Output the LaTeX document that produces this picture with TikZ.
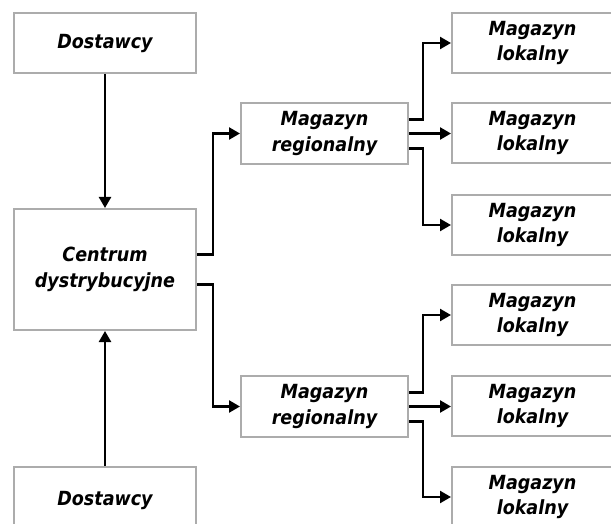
\documentclass[tikz,border=0pt]{standalone}
\usepackage{fontspec}
\setmainfont{DejaVu Sans Condensed}
\usetikzlibrary{arrows.meta}
\definecolor{boxgray}{RGB}{172,172,172}
\begin{document}
\begin{tikzpicture}[x=1pt,y=1pt,
  box/.style={draw=boxgray, line width=2pt, fill=white, inner sep=0pt, align=center,
    font=\fontsize{19.5}{25.5}\selectfont\bfseries\itshape},
  wide/.style={box, minimum width=182pt, minimum height=60pt},
  reg/.style={box, minimum width=167pt, minimum height=61pt},
  loc/.style={box, minimum width=161pt, minimum height=60pt},
  arr/.style={line width=2.3pt, -{Triangle[length=11pt,width=12pt]}}]
\useasboundingbox (0,0) rectangle (611,523);
\node[wide] (D1) at (105,480) {Dostawcy};
\node[wide, minimum height=121pt] (C) at (105,253.5) {Centrum\\dystrybucyjne};
\node[wide, minimum height=66pt] (D2) at (105,23) {Dostawcy};
\node[reg] (R1) at (324.5,389.5) {Magazyn\\regionalny};
\node[reg] (R2) at (324.5,116.5) {Magazyn\\regionalny};
\node[loc] (L1) at (532.5,480) {Magazyn\\lokalny};
\node[loc] (L2) at (532.5,390) {Magazyn\\lokalny};
\node[loc] (L3) at (532.5,298) {Magazyn\\lokalny};
\node[loc] (L4) at (532.5,208) {Magazyn\\lokalny};
\node[loc] (L5) at (532.5,117) {Magazyn\\lokalny};
\node[loc] (L6) at (532.5,26) {Magazyn\\lokalny};
\draw[arr] (D1.south) -- (C.north);
\draw[arr] (D2.north) -- (C.south);
\draw[arr] ([yshift=15pt]C.east) -- ++(16pt,0) |- (R1.west);
\draw[arr] ([yshift=-15pt]C.east) -- ++(16pt,0) |- (R2.west);
\draw[arr] ([yshift=14pt]R1.east) -- ++(14pt,0) |- (L1.west);
\draw[arr] (R1.east) -- (R1.east -| L2.west);
\draw[arr] ([yshift=-15pt]R1.east) -- ++(14pt,0) |- (L3.west);
\draw[arr] ([yshift=14pt]R2.east) -- ++(14pt,0) |- (L4.west);
\draw[arr] (R2.east) -- (R2.east -| L5.west);
\draw[arr] ([yshift=-15pt]R2.east) -- ++(14pt,0) |- (L6.west);
\end{tikzpicture}
\end{document}
